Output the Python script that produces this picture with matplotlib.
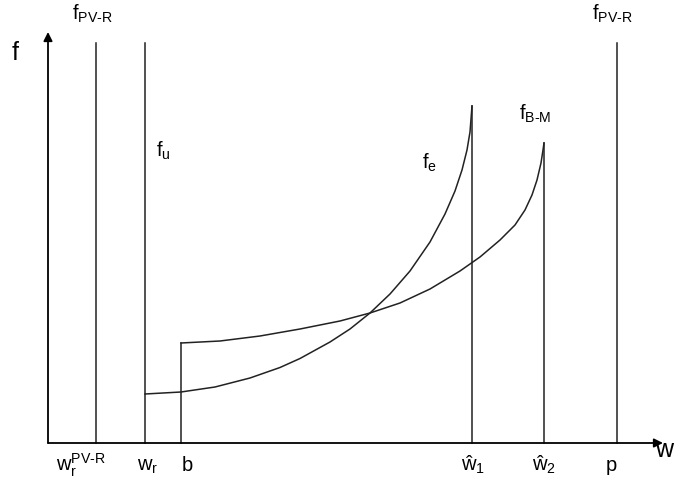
import numpy as np
import matplotlib
matplotlib.use("Agg")
from matplotlib import pyplot as plt

plt.rcParams['font.family'] = 'Liberation Sans'
plt.rcParams['mathtext.fontset'] = 'custom'
plt.rcParams['mathtext.rm'] = 'Liberation Sans'
plt.rcParams['mathtext.it'] = 'Liberation Sans'

# positions on the w axis
w_rpv = 0.48
w_r = 0.97
b = 1.33
w_hat1 = 4.24
w_hat2 = 4.96
p = 5.69

# heights of the vertical lines
pv_top = 4.00
wr_top = 4.00

# f_e curve (w_r .. w_hat1)
fe_x = [0.97, 1.33, 1.67, 2.02, 2.32, 2.52, 2.82, 3.02, 3.22, 3.42, 3.62, 3.82, 3.97, 4.07, 4.14, 4.19, 4.22, 4.24]
fe_y = [0.49, 0.51, 0.56, 0.65, 0.755, 0.845, 1.01, 1.14, 1.30, 1.49, 1.72, 2.01, 2.29, 2.52, 2.73, 2.93, 3.11, 3.37]

# f_B-M curve (b .. w_hat2)
fbm_x = [1.33, 1.72, 2.12, 2.52, 2.92, 3.22, 3.52, 3.82, 4.12, 4.32, 4.52, 4.67, 4.77, 4.84, 4.89, 4.93, 4.95, 4.96]
fbm_y = [1.00, 1.02, 1.07, 1.14, 1.22, 1.30, 1.40, 1.54, 1.72, 1.86, 2.03, 2.18, 2.33, 2.48, 2.63, 2.80, 2.93, 3.00]

fig = plt.figure(figsize=(6.81, 4.83), dpi=100)
ax = fig.add_axes([0, 0, 1, 1])
ax.set_xlim(-0.48, 6.33)
ax.set_ylim(-0.40, 4.43)
ax.axis('off')

lc = '#222222'
lw = 1.1

# axes with arrows
arr = dict(arrowstyle='-|>', lw=1.3, color='black', mutation_scale=13, shrinkA=0, shrinkB=0)
ax.annotate('', xy=(0, 4.11), xytext=(0, 0), arrowprops=arr)
ax.annotate('', xy=(6.15, 0), xytext=(0, 0), arrowprops=arr)

# vertical lines
ax.plot([w_rpv, w_rpv], [0, pv_top], color=lc, lw=lw)
ax.plot([w_r, w_r], [0, wr_top], color=lc, lw=lw)
ax.plot([p, p], [0, pv_top], color=lc, lw=lw)
ax.plot([b, b], [0, fbm_y[0]], color=lc, lw=lw)
ax.plot([w_hat1, w_hat1], [0, fe_y[-1]], color=lc, lw=lw)
ax.plot([w_hat2, w_hat2], [0, fbm_y[-1]], color=lc, lw=lw)

# curves
ax.plot(fe_x, fe_y, color=lc, lw=lw, solid_joinstyle='round')
ax.plot(fbm_x, fbm_y, color=lc, lw=lw, solid_joinstyle='round')

# labels
def px(x, y):
    return (x - 48) / 100, (443 - y) / 100

fs = 14.5
ax.text(*px(12, 60), 'f', fontsize=18, ha='left', va='baseline')
ax.text(*px(655, 457), 'w', fontsize=18, ha='left', va='baseline')
ax.text(*px(72, 20), r'$\mathrm{f_{PV\text{-}R}}$', fontsize=fs, ha='left', va='baseline')
ax.text(*px(592, 20), r'$\mathrm{f_{PV\text{-}R}}$', fontsize=fs, ha='left', va='baseline')
ax.text(*px(156, 157), r'$\mathrm{f_u}$', fontsize=fs, ha='left', va='baseline')
ax.text(*px(422, 169), r'$\mathrm{f_e}$', fontsize=fs, ha='left', va='baseline')
ax.text(*px(519, 120), r'$\mathrm{f_{B\text{-}M}}$', fontsize=fs, ha='left', va='baseline')

yb = 471
ax.text(*px(56, yb), r'$\mathrm{w_r^{PV\text{-}R}}$', fontsize=fs, ha='left', va='baseline')
ax.text(*px(137, yb), r'$\mathrm{w_r}$', fontsize=fs, ha='left', va='baseline')
ax.text(*px(182, yb), 'b', fontsize=fs, ha='left', va='baseline')
ax.text(*px(461, yb), r'$\mathrm{ŵ_1}$', fontsize=fs, ha='left', va='baseline')
ax.text(*px(532, yb), r'$\mathrm{ŵ_2}$', fontsize=fs, ha='left', va='baseline')
ax.text(*px(606, yb), 'p', fontsize=fs, ha='left', va='baseline')

fig.savefig('out.png', dpi=100)
